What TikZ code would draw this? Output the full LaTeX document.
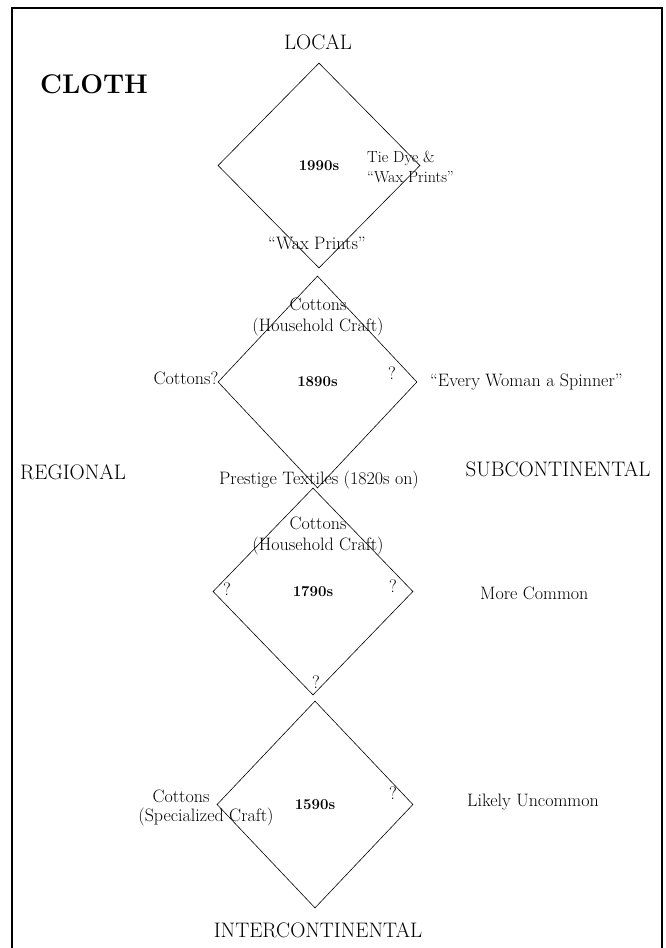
\documentclass[tikz,border=0pt]{standalone}
\usepackage{amsmath,amssymb}
\usetikzlibrary{shapes.geometric}

\begin{document}
\begin{tikzpicture}[x=1pt,y=-1pt,
   txt/.style={font=\fontsize{18}{21}\selectfont, inner sep=0pt, align=center},
   scal/.style={font=\fontsize{21}{24}\selectfont, inner sep=0pt},
   era/.style={draw, diamond, line width=0.6pt, inner sep=0pt,
               font=\fontsize{15}{18}\selectfont\bfseries}]
\useasboundingbox (0,0) rectangle (666,948);
\draw [line width=1.4pt] (12,948)--(12,8)--(662,8)--(662,948);

 \node [font=\fontsize{27}{30}\selectfont\bfseries,inner sep=0pt] (cloth) at (94,84) {CLOTH};
 \node [scal] (local) at (318,42) {LOCAL};
 \node [scal] (regional) at (73,472) {REGIONAL};
 \node [scal] (subcont) at (558,469) {SUBCONTINENTAL};
 \node [scal] (intercont) at (318,930) {INTERCONTINENTAL};

% the 1990s
\node [era, minimum width=202pt, minimum height=205pt] (d1990) at (319,165.5) {1990s};
\node [txt, font=\fontsize{16}{20}\selectfont, align=left, anchor=west] (tiedye) at (367,167) {Tie Dye \&\\``Wax Prints''};
\node [txt] (wax) at (317,243) {``Wax Prints''};

% the 1890s
\node [era, minimum width=199pt, minimum height=212pt] (d1890) at (317.5,382) {1890s};
\node [txt] (cot2) at (318,317) {Cottons\\(Household Craft)};
\node [txt] (cotq) at (186,378) {Cottons?};
\node [txt] (q2) at (392,373) {?};
\node [txt, anchor=west] (spinner) at (430,382) {``Every Woman a Spinner''};
\node [txt] (prestige) at (319,480) {Prestige Textiles (1820s on)};

% the 1790s
\node [era, minimum width=200pt, minimum height=207pt] (d1790) at (313,591.5) {1790s};
\node [txt] (cot3) at (318,536) {Cottons\\(Household Craft)};
\node [txt] (q3l) at (227,589) {?};
\node [txt] (q3r) at (393,586) {?};
\node [txt] (q3b) at (316,682) {?};
\node [txt, anchor=west] (common) at (480,593) {More Common};

% the 1590s
\node [era, minimum width=196pt, minimum height=207pt] (d1590) at (315,804.5) {1590s};
\node [txt] (cot4) at (206,808) {Cottons\hspace*{50pt}\\[-2pt](Specialized Craft)};
\node [txt] (q4) at (393,793) {?};
\node [txt, anchor=west] (uncommon) at (467,802) {Likely Uncommon};

\end{tikzpicture}
\end{document}
